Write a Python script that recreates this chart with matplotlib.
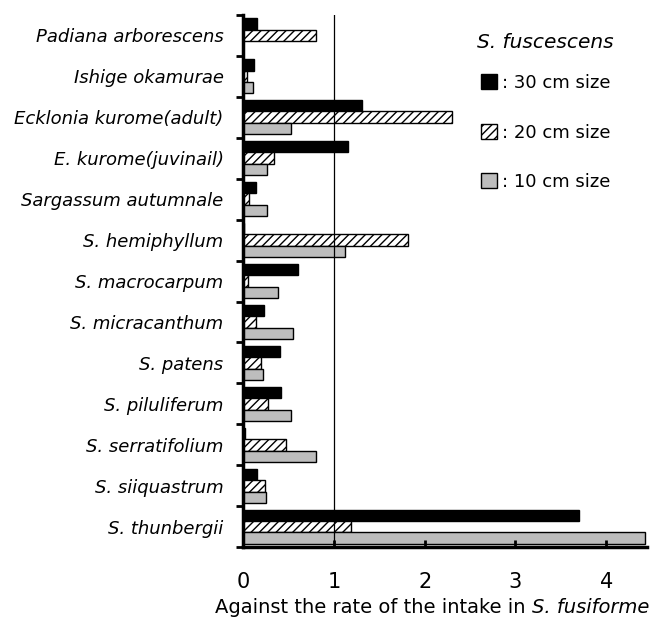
import matplotlib.pyplot as plt
import numpy as np
from matplotlib.patches import Patch

species = ["Padiana arborescens", "Ishige okamurae", "Ecklonia kurome(adult)",
           "E. kurome(juvinail)", "Sargassum autumnale", "S. hemiphyllum",
           "S. macrocarpum", "S. micracanthum", "S. patens", "S. piluliferum",
           "S. serratifolium", "S. siiquastrum", "S. thunbergii"]
size_30 = [0.15, 0.12, 1.31, 1.16, 0.14, 0.01, 0.61, 0.23, 0.41, 0.42, 0.02, 0.15, 3.70]
size_20 = [0.80, 0.04, 2.30, 0.34, 0.07, 1.82, 0.06, 0.14, 0.20, 0.28, 0.47, 0.24, 1.19]
size_10 = [0.00, 0.11, 0.53, 0.26, 0.26, 1.12, 0.38, 0.55, 0.22, 0.53, 0.80, 0.25, 4.43]
xticks = [0, 1, 2, 3, 4]

y = np.arange(len(species))
h = 0.28

fig = plt.figure(figsize=(6.55, 6.19), dpi=100)
ax = fig.add_axes([0.371, 0.116, 0.617, 0.86])

ax.barh(y - h, size_30, height=h, color="black", edgecolor="black", linewidth=1)
ax.barh(y, size_20, height=h, color="white", edgecolor="black", hatch="////", linewidth=1)
ax.barh(y + h, size_10, height=h, color="#bdbdbd", edgecolor="black", linewidth=1)
ax.axvline(1, color="black", lw=0.9, zorder=3)

ax.set_ylim(len(species) - 0.5, -0.5)
ax.set_xlim(0, 4.45)
ax.set_yticks(y)
ax.set_yticklabels(species, style="italic", fontsize=13)
ax.tick_params(axis="y", which="major", length=0, pad=14)
ax.set_yticks(np.arange(-0.5, len(species), 1), minor=True)
ax.tick_params(axis="y", which="minor", length=5, width=2)
ax.set_xticks(xticks)
ax.set_xticklabels([str(t) for t in xticks], fontsize=15)
ax.tick_params(axis="x", direction="in", length=5, width=2, pad=18)

for s in ["top", "right"]:
    ax.spines[s].set_visible(False)
ax.spines["left"].set_linewidth(2.5)
ax.spines["bottom"].set_linewidth(2.5)

# x label: plain part + italic species name
t1 = fig.text(0.328, 0.004, "Against the rate of the intake in ", fontsize=14,
              ha="left", va="bottom")
ax.annotate("S. fusiforme", xy=(1, 0), xycoords=t1, fontsize=14, style="italic",
            ha="left", va="bottom", annotation_clip=False)

handles = [Patch(facecolor="black", edgecolor="black"),
           Patch(facecolor="white", edgecolor="black", hatch="////"),
           Patch(facecolor="#bdbdbd", edgecolor="black")]
leg = ax.legend(handles, [": 30 cm size", ": 20 cm size", ": 10 cm size"],
                title="S. fuscescens", loc="upper left", bbox_to_anchor=(0.54, 0.997),
                frameon=False, fontsize=13, labelspacing=1.75, handlelength=0.9,
                handleheight=0.9, handletextpad=0.3)
leg.get_title().set_fontsize(14.5)
leg.get_title().set_style("italic")
leg._legend_box.sep = 16

fig.savefig("out.png", dpi=100)
